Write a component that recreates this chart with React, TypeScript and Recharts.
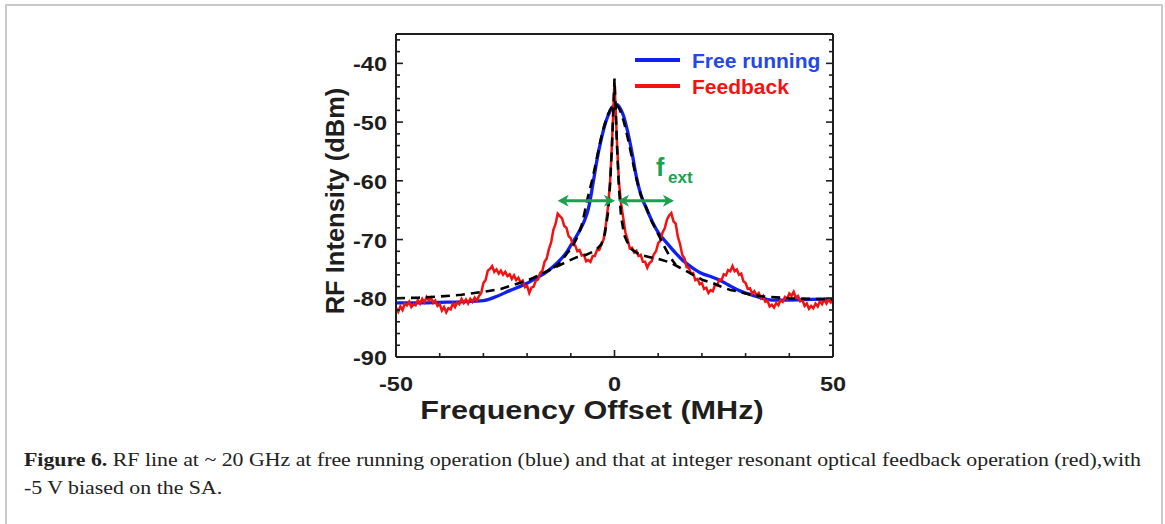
import React from "react";
import { LineChart, Line, XAxis, YAxis, ReferenceLine } from "recharts";

// free running trace (blue)
const freeX = [
  -50, -45, -40, -35, -30, -27, -24, -21, -18, -15, -13, -11, -10, -9, -8, -7, -6, -5.5, -5, -4.5,
  -4, -3, -2, -1, 0, 0.5, 1, 2, 3, 4, 5, 6, 7, 8, 9, 10, 12, 14, 16, 18, 20, 22, 24, 26, 28, 30,
  33, 36, 40, 45, 50,
];
const freeY = [
  -80.8, -80.8, -80.7, -80.6, -80.4, -79.7, -78.7, -77.8, -76.6, -75.2, -73.9, -72.2, -71.0, -69.8,
  -68.5, -67.0, -64.8, -63.0, -60.8, -58.6, -56.4, -52.8, -50.0, -48.1, -47.1, -47.0, -47.3, -48.8,
  -51.6, -55.2, -59.3, -62.3, -64.2, -65.9, -67.5, -68.8, -70.6, -72.3, -73.8, -74.9, -75.8, -76.3,
  -76.9, -77.7, -78.5, -79.1, -79.8, -80.3, -80.3, -80.2, -80.1,
];

// feedback trace (red)
const feedbackX = [
  -50, -49.5, -49, -48.5, -48, -47.5, -47, -46.5, -46, -45.5,
  -45, -44.5, -44, -43.5, -43, -42.5, -42, -41.5, -41, -40.5,
  -40, -39.5, -39, -38.5, -38, -37.5, -37, -36.5, -36, -35.5,
  -35, -34.5, -34, -33.5, -33, -32.5, -32, -31.5, -31, -30.5,
  -30, -29.5, -29, -28.5, -28, -27.5, -27, -26.5, -26, -25.5,
  -25, -24.5, -24, -23.5, -23, -22.5, -22, -21.5, -21, -20.5,
  -20, -19.5, -19, -18.5, -18, -17.5, -17, -16.5, -16, -15.5,
  -15, -14.5, -14, -13.5, -13, -12.5, -12, -11.5, -11, -10.5,
  -10, -9.5, -9, -8.5, -8, -7.5, -7, -6.5, -6, -5.5,
  -5, -4.5, -4, -3.5, -3, -2.5, -2,
  -1.5, -1, -0.6, -0.3, 0, 0.3, 0.6, 1, 1.5,
  2, 2.5, 3, 3.5, 4, 4.5, 5, 5.5, 6, 6.5,
  7, 7.5, 8, 8.5, 9, 9.5, 10, 10.5, 11, 11.5,
  12, 12.5, 13, 13.5, 14, 14.5, 15, 15.5, 16, 16.5,
  17, 17.5, 18, 18.5, 19, 19.5, 20, 20.5, 21, 21.5,
  22, 22.5, 23, 23.5, 24, 24.5, 25, 25.5, 26, 26.5,
  27, 27.5, 28, 28.5, 29, 29.5, 30, 30.5, 31, 31.5,
  32, 32.5, 33, 33.5, 34, 34.5, 35, 35.5, 36, 36.5,
  37, 37.5, 38, 38.5, 39, 39.5, 40, 40.5, 41, 41.5,
  42, 42.5, 43, 43.5, 44, 44.5, 45, 45.5, 46, 46.5,
  47, 47.5, 48, 48.5, 49, 49.5, 50,
];
const feedbackY = [
  -81.6, -82.3, -81.4, -82.0, -80.9, -81.2, -80.6, -81.5, -81.0, -81.2,
  -80.3, -80.9, -80.1, -80.7, -79.8, -80.4, -79.9, -80.8, -80.4, -81.3,
  -81.0, -82.1, -81.5, -82.4, -81.7, -81.9, -80.9, -81.5, -80.7, -81.0,
  -80.1, -80.8, -80.2, -80.9, -80.1, -80.6, -79.9, -80.4, -79.6, -79.1,
  -77.4, -76.9, -75.3, -75.0, -74.5, -75.5, -75.1, -75.8, -75.3, -76.0,
  -75.5, -76.2, -75.9, -76.7, -76.1, -76.9, -76.5, -77.3, -77.0, -78.1,
  -77.9, -79.1, -78.2, -78.0, -77.0, -76.8, -75.7, -75.3, -73.8, -73.2,
  -71.6, -70.5, -68.4, -67.4, -65.6, -66.0, -66.4, -67.7, -68.0, -69.4,
  -69.8, -70.9, -71.0, -72.0, -71.8, -72.7, -72.6, -73.7, -73.5, -73.8,
  -72.8, -72.8, -71.8, -71.8, -70.8, -70.0, -67.6,
  -64.5, -60.0, -54.0, -48.5, -43.3, -48.5, -54.0, -60.0, -63.8,
  -66.3, -68.8, -70.0, -71.5, -71.4, -72.2, -71.9, -72.8, -72.6, -73.8,
  -73.8, -74.8, -74.0, -73.7, -72.5, -72.0, -70.6, -70.2, -68.8, -68.1,
  -66.6, -65.9, -65.5, -66.9, -67.3, -69.5, -70.8, -72.6, -73.2, -74.7,
  -74.8, -75.8, -75.7, -76.9, -76.7, -77.6, -77.4, -78.4, -78.2, -79.1,
  -78.6, -78.8, -77.7, -77.8, -76.8, -76.9, -75.9, -76.1, -75.2, -75.4,
  -74.5, -75.4, -75.1, -76.0, -75.8, -77.1, -77.4, -78.4, -78.3, -79.2,
  -78.8, -79.5, -79.1, -80.0, -79.6, -80.6, -80.4, -81.4, -81.1, -81.6,
  -80.8, -81.2, -80.3, -80.6, -79.8, -80.1, -79.2, -79.6, -78.9, -79.9,
  -79.6, -80.5, -80.3, -81.3, -80.9, -81.8, -81.3, -81.7, -80.9, -81.4,
  -80.5, -81.0, -80.2, -80.9, -80.2, -80.7, -80.2,
];

// dashed fits (black)
const broadFitX = [
  -14, -13, -11, -9.5, -8.6, -7.5, -6.1, -5, -4, -3, -2, -1, 0, 1, 2, 3, 4, 5.1, 6, 7.4, 8.1, 9.7,
  11, 12.7, 14,
];
const broadFitY = [
  -74.8, -74.3, -72.5, -71.0, -69.7, -67.5, -62.8, -59.5, -56.0, -52.5, -49.8, -47.9, -47.0, -47.6,
  -49.6, -52.6, -56.1, -59.9, -62.3, -64.8, -66.2, -68.6, -70.6, -72.9, -74.3,
];
const narrowFitX = [
  -50, -45, -40, -35, -30, -26, -23, -20, -18.5, -16, -13.2, -11, -8.6, -6.5, -5, -4, -3, -2.2,
  -1.5, -1, -0.6, -0.3, 0, 0.3, 0.6, 1, 1.5, 2.2, 2.9, 4, 5.8, 8.1, 10.5, 12.7, 15, 18, 20.2, 22.5,
  24.3, 26.5, 28, 30, 34, 40, 45, 50,
];
const narrowFitY = [
  -80.0, -79.9, -79.7, -79.4, -78.9, -78.4, -77.7, -77.0, -76.5, -75.6, -74.6, -73.8, -73.0, -72.6,
  -72.1, -71.6, -70.8, -69.0, -65.5, -60.5, -54.5, -48.5, -42.6, -48.5, -54.5, -61.0, -66.0, -69.2,
  -70.4, -71.7, -72.6, -73.0, -73.4, -73.9, -74.8, -76.0, -76.9, -77.4, -78.0, -78.6, -78.8, -79.2,
  -79.7, -80.0, -80.1, -80.2,
];

// f_ext arrows
const arrowLevel = -63.4;
const arrowLeftX = [-13, 0.1];
const arrowRightX = [0.8, 13.6];

const xTicks = [-50, -40, -30, -20, -10, 0, 10, 20, 30, 40, 50];
const xLabeled = [-50, 0, 50];
const yTicks = [
  -90, -88, -86, -84, -82, -80, -78, -76, -74, -72, -70, -68, -66, -64, -62, -60, -58, -56, -54,
  -52, -50, -48, -46, -44, -42, -40, -38, -36,
];
const yLabeled = [-90, -80, -70, -60, -50, -40];

const SANS = "'Liberation Sans', Arial, sans-serif";
const INK = "#1e1e1e";
const BLUE = "#1020ee";
const RED = "#f21212";
const GREEN = "#18a24e";

const toPoints = (xs: number[], ys: number[]) => xs.map((x, i) => ({ x, y: ys[i] }));

function BoxTick(props: any) {
  const { x, y, payload, side, labeled } = props;
  const major = labeled.includes(payload.value);
  const len = major ? 7 : 4;
  let x2 = x;
  let y2 = y;
  if (side === "bottom") y2 = y - len;
  if (side === "top") y2 = y + len;
  if (side === "left") x2 = x + len;
  if (side === "right") x2 = x - len;
  let label = null;
  if (major && side === "bottom") {
    label = (
      <text
        transform={`translate(${x},${y + 27}) scale(1.12,1)`}
        textAnchor="middle"
        dominantBaseline="central"
        fontFamily={SANS}
        fontWeight="bold"
        fontSize={21}
        fill={INK}
      >
        {payload.value}
      </text>
    );
  }
  if (major && side === "left") {
    label = (
      <text
        transform={`translate(${x - 9},${y + 1}) scale(1.12,1)`}
        textAnchor="end"
        dominantBaseline="central"
        fontFamily={SANS}
        fontWeight="bold"
        fontSize={21}
        fill={INK}
      >
        {payload.value}
      </text>
    );
  }
  return (
    <g>
      <line x1={x} y1={y} x2={x2} y2={y2} stroke={INK} strokeWidth={1.6} />
      {label}
    </g>
  );
}

function Arrow(props: any) {
  const { x1, y1, x2, y2 } = props;
  const h = 11;
  const w = 6;
  const n = 8;
  return (
    <g>
      <line x1={x1 + n} y1={y1} x2={x2 - n} y2={y2} stroke={GREEN} strokeWidth={3} />
      <polygon
        points={`${x1},${y1} ${x1 + h},${y1 - w} ${x1 + n},${y1} ${x1 + h},${y1 + w}`}
        fill={GREEN}
      />
      <polygon
        points={`${x2},${y2} ${x2 - h},${y2 - w} ${x2 - n},${y2} ${x2 - h},${y2 + w}`}
        fill={GREEN}
      />
    </g>
  );
}

export default function App() {
  const free = toPoints(freeX, freeY);
  const feedback = toPoints(feedbackX, feedbackY);
  const broadFit = toPoints(broadFitX, broadFitY);
  const narrowFit = toPoints(narrowFitX, narrowFitY);
  const axisLine = { stroke: INK, strokeWidth: 2 };

  return (
    <div
      style={{
        position: "fixed",
        left: 0,
        top: 0,
        width: 1165,
        height: 524,
        background: "#fff",
        overflow: "hidden",
      }}
    >
      <div
        style={{
          position: "absolute",
          left: 5,
          top: 4,
          width: 1154,
          height: 540,
          borderLeft: "2px solid #cacaca",
          borderTop: "2px solid #cacaca",
          borderRight: "2px solid #cacaca",
        }}
      />
      <div style={{ position: "absolute", left: 0, top: 0 }}>
        <LineChart
          width={1165}
          height={524}
          margin={{ top: 33, right: 331, bottom: 126, left: 336 }}
        >
          <XAxis
            xAxisId="b"
            dataKey="x"
            type="number"
            domain={[-50, 50]}
            allowDataOverflow
            ticks={xTicks}
            interval={0}
            height={41}
            tickSize={0}
            tickMargin={0}
            tickLine={false}
            axisLine={axisLine}
            tick={(p: any) => <BoxTick {...p} side="bottom" labeled={xLabeled} />}
          />
          <XAxis
            xAxisId="t"
            orientation="top"
            type="number"
            domain={[-50, 50]}
            allowDataOverflow
            ticks={xTicks}
            interval={0}
            height={1}
            tickSize={0}
            tickMargin={0}
            tickLine={false}
            axisLine={axisLine}
            tick={(p: any) => <BoxTick {...p} side="top" labeled={xLabeled} />}
          />
          <YAxis
            yAxisId="l"
            type="number"
            domain={[-90, -35]}
            allowDataOverflow
            ticks={yTicks}
            interval={0}
            width={60}
            tickSize={0}
            tickMargin={0}
            tickLine={false}
            axisLine={axisLine}
            tick={(p: any) => <BoxTick {...p} side="left" labeled={yLabeled} />}
          />
          <YAxis
            yAxisId="r"
            orientation="right"
            type="number"
            domain={[-90, -35]}
            allowDataOverflow
            ticks={yTicks}
            interval={0}
            width={1}
            tickSize={0}
            tickMargin={0}
            tickLine={false}
            axisLine={axisLine}
            tick={(p: any) => <BoxTick {...p} side="right" labeled={yLabeled} />}
          />
          <Line
            xAxisId="b"
            yAxisId="l"
            data={free}
            dataKey="y"
            type="monotone"
            stroke={BLUE}
            strokeWidth={3.3}
            dot={false}
            isAnimationActive={false}
          />
          <Line
            xAxisId="b"
            yAxisId="l"
            data={feedback}
            dataKey="y"
            type="linear"
            stroke={RED}
            strokeWidth={2.5}
            strokeLinejoin="miter"
            dot={false}
            isAnimationActive={false}
          />
          <Line
            xAxisId="b"
            yAxisId="l"
            data={broadFit}
            dataKey="y"
            type="monotone"
            stroke="#000"
            strokeWidth={2.6}
            strokeDasharray="9 6"
            dot={false}
            isAnimationActive={false}
          />
          <Line
            xAxisId="b"
            yAxisId="l"
            data={narrowFit}
            dataKey="y"
            type="linear"
            stroke="#000"
            strokeWidth={2.6}
            strokeDasharray="9 6"
            dot={false}
            isAnimationActive={false}
          />
          <ReferenceLine
            xAxisId="b"
            yAxisId="l"
            segment={[
              { x: arrowLeftX[0], y: arrowLevel },
              { x: arrowLeftX[1], y: arrowLevel },
            ]}
            shape={(p: any) => <Arrow {...p} />}
          />
          <ReferenceLine
            xAxisId="b"
            yAxisId="l"
            segment={[
              { x: arrowRightX[0], y: arrowLevel },
              { x: arrowRightX[1], y: arrowLevel },
            ]}
            shape={(p: any) => <Arrow {...p} />}
          />
        </LineChart>
      </div>
      <svg
        width={1165}
        height={524}
        style={{ position: "absolute", left: 0, top: 0, pointerEvents: "none" }}
      >
        <text
          transform="translate(335,201) rotate(-90)"
          textAnchor="middle"
          dominantBaseline="central"
          fontFamily={SANS}
          fontWeight="bold"
          fontSize={25.5}
          fill={INK}
        >
          RF Intensity (dBm)
        </text>
        <text
          transform="translate(592,410) scale(1.2,1)"
          textAnchor="middle"
          dominantBaseline="central"
          fontFamily={SANS}
          fontWeight="bold"
          fontSize={25.5}
          fill={INK}
        >
          Frequency Offset (MHz)
        </text>
        <line x1={635} y1={60} x2={680} y2={60} stroke={BLUE} strokeWidth={4} />
        <line x1={635} y1={86} x2={680} y2={86} stroke={RED} strokeWidth={4} />
        <text
          x={692}
          y={60}
          dominantBaseline="central"
          fontFamily={SANS}
          fontWeight="bold"
          fontSize={21}
          fill="#2447e6"
        >
          Free running
        </text>
        <text
          x={692}
          y={86}
          dominantBaseline="central"
          fontFamily={SANS}
          fontWeight="bold"
          fontSize={21}
          fill={RED}
        >
          Feedback
        </text>
        <text x={656} y={176} fontFamily={SANS} fontWeight="bold" fontSize={25} fill={GREEN}>
          f
        </text>
        <text x={668} y={183} fontFamily={SANS} fontWeight="bold" fontSize={17} fill={GREEN}>
          ext
        </text>
      </svg>
      <div
        style={{
          position: "absolute",
          left: 24,
          top: 446,
          fontFamily: "'Liberation Serif', 'Times New Roman', serif",
          fontSize: 19.5,
          lineHeight: "28px",
          color: "#222",
          whiteSpace: "nowrap",
          transform: "scaleX(1.12)",
          transformOrigin: "0 0",
        }}
      >
        <div>
          <b>Figure 6.</b> RF line at ~ 20 GHz at free running operation (blue) and that at integer
          resonant optical feedback operation (red),with
        </div>
        <div>-5 V biased on the SA.</div>
      </div>
    </div>
  );
}
